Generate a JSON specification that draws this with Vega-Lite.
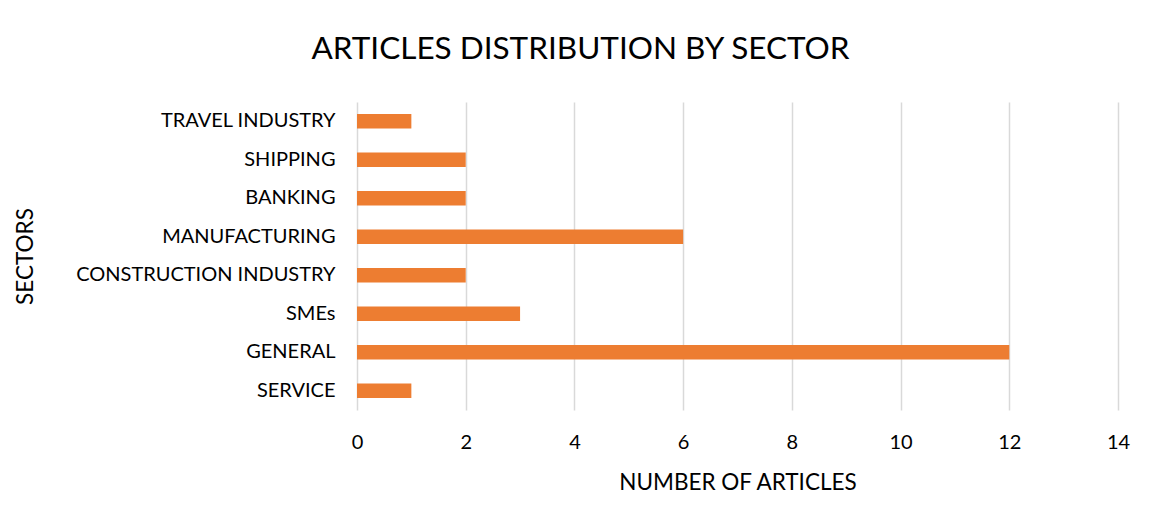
{
  "$schema": "https://vega.github.io/schema/vega-lite/v6.json",
  "width": 761,
  "height": 308,
  "autosize": {"type": "none"},
  "padding": {"left": 357, "top": 102, "right": 42, "bottom": 117},
  "background": "white",
  "title": {
    "text": "ARTICLES DISTRIBUTION BY SECTOR",
    "font": "Lato",
    "fontSize": 31.5,
    "fontWeight": "normal",
    "color": "#000000",
    "anchor": "middle",
    "dx": -157,
    "offset": 37
  },
  "data": {
    "values": [
      {"sector": "TRAVEL INDUSTRY", "articles": 1},
      {"sector": "SHIPPING", "articles": 2},
      {"sector": "BANKING", "articles": 2},
      {"sector": "MANUFACTURING", "articles": 6},
      {"sector": "CONSTRUCTION INDUSTRY", "articles": 2},
      {"sector": "SMEs", "articles": 3},
      {"sector": "GENERAL", "articles": 12},
      {"sector": "SERVICE", "articles": 1}
    ]
  },
  "mark": {"type": "bar", "color": "#ED7D31"},
  "encoding": {
    "y": {
      "field": "sector",
      "type": "nominal",
      "sort": null,
      "scale": {"paddingInner": 0.62, "paddingOuter": 0.31},
      "axis": {
        "title": "SECTORS",
        "titleFont": "Lato",
        "titleFontSize": 22.5,
        "titleFontWeight": "normal",
        "titleColor": "#000000",
        "titleX": -320,
        "titleY": 154,
        "titleAlign": "center",
        "labelFont": "Lato",
        "labelFontSize": 20,
        "labelColor": "#000000",
        "labelPadding": 22,
        "labelLimit": 400,
        "ticks": false,
        "domain": false,
        "grid": false
      }
    },
    "x": {
      "field": "articles",
      "type": "quantitative",
      "scale": {"domain": [0, 14]},
      "axis": {
        "values": [0, 2, 4, 6, 8, 10, 12, 14],
        "title": "NUMBER OF ARTICLES",
        "titleFont": "Lato",
        "titleFontSize": 22.5,
        "titleFontWeight": "normal",
        "titleColor": "#000000",
        "titlePadding": 19,
        "labelFont": "Lato",
        "labelFontSize": 20,
        "labelColor": "#000000",
        "labelPadding": 22,
        "labelFlush": false,
        "ticks": false,
        "domain": false,
        "grid": true,
        "gridColor": "#D9D9D9",
        "gridWidth": 1.5
      }
    }
  },
  "config": {"view": {"stroke": null}}
}
